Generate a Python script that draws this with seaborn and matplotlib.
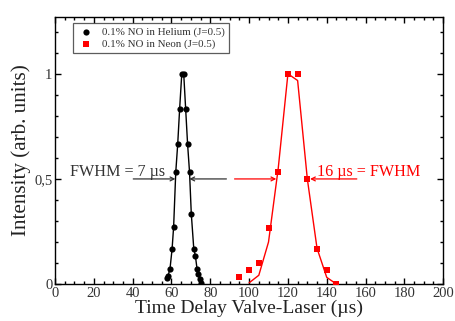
"""Pulse profiles of NO seeded in helium and neon, with FWHM arrows."""

import pandas as pd
import matplotlib
matplotlib.use('Agg')
import matplotlib.pyplot as plt
from matplotlib.ticker import MultipleLocator, FuncFormatter
import seaborn as sns

# helium data (black circles, joined by a line)
helium_t = [57.5, 58.2, 59.2, 60.3, 61.1, 62.2, 63.2, 64.2, 65.3, 66.3,
            67.3, 68.3, 69.3, 70.2, 71.5, 72.3, 73.2, 73.8, 74.6, 75.3]
helium_i = [0.03, 0.04, 0.07, 0.166, 0.272, 0.532, 0.665, 0.833, 1.0, 1.0,
            0.833, 0.665, 0.532, 0.335, 0.166, 0.135, 0.07, 0.046, 0.022, 0.006]

# neon data (red squares) and the smoothed red curve
neon_t = [95, 100, 105, 110, 115, 120, 125, 130, 135, 140, 145]
neon_i = [0.035, 0.067, 0.102, 0.266, 0.533, 1.0, 1.0, 0.50, 0.167, 0.067, 0.0]
neon_fit_t = [100, 105, 110, 115, 120, 125, 130, 135, 140, 145]
neon_fit_i = [0.006, 0.042, 0.20, 0.55, 1.0, 0.968, 0.50, 0.17, 0.032, 0.0]


def main():
    sns.set_theme(style='ticks')
    plt.rcParams['font.family'] = ['Liberation Serif', 'DejaVu Serif']

    he = pd.DataFrame({'t': helium_t, 'i': helium_i})
    ne = pd.DataFrame({'t': neon_t, 'i': neon_i})
    ne_fit = pd.DataFrame({'t': neon_fit_t, 'i': neon_fit_i})

    fig = plt.figure(figsize=(4.55, 3.21), dpi=100)
    ax = fig.add_axes([0.121, 0.115, 0.853, 0.832])

    sns.lineplot(data=he, x='t', y='i', color='black', lw=1.0, ax=ax,
                 legend=False, sort=False)
    sns.lineplot(data=ne_fit, x='t', y='i', color='red', lw=1.0, ax=ax,
                 legend=False, sort=False)
    sns.scatterplot(data=he, x='t', y='i', color='black', marker='o', s=20,
                    edgecolor='black', linewidth=0, ax=ax,
                    label='0.1% NO in Helium (J=0.5)', zorder=3)
    sns.scatterplot(data=ne, x='t', y='i', color='red', marker='s', s=18,
                    edgecolor='red', linewidth=0, ax=ax,
                    label='0.1% NO in Neon (J=0.5)', zorder=3)

    ax.set_xlim(0, 200)
    ax.set_ylim(0, 1.27)
    ax.xaxis.set_major_locator(MultipleLocator(20))
    ax.xaxis.set_minor_locator(MultipleLocator(5))
    ax.yaxis.set_major_locator(MultipleLocator(0.5))
    ax.yaxis.set_minor_locator(MultipleLocator(0.1))
    ax.yaxis.set_major_formatter(FuncFormatter(
        lambda v, p: ('%g' % v).replace('.', ',')))
    ax.tick_params(which='both', direction='in', top=True, right=True,
                   labelsize=10.5, colors='black', width=1.0, pad=2)
    ax.tick_params(which='major', length=4)
    ax.tick_params(which='minor', length=2.5)
    for s in ax.spines.values():
        s.set_linewidth(1.0)
        s.set_color('black')
    for lab in ax.get_xticklabels() + ax.get_yticklabels():
        lab.set_color('#333333')

    ax.set_xlabel('Time Delay Valve-Laser (µs)', fontsize=14,
                  color='#222222', labelpad=0)
    ax.set_ylabel('Intensity (arb. units)', fontsize=15.2,
                  color='#222222', labelpad=2)

    # FWHM arrows
    arrow_k = dict(arrowstyle='->', color='#333333', lw=0.9,
                   shrinkA=0, shrinkB=0, mutation_scale=7)
    arrow_r = dict(arrowstyle='->', color='red', lw=0.9,
                   shrinkA=0, shrinkB=0, mutation_scale=7)
    ax.annotate('', xy=(62, 0.5), xytext=(40.3, 0.5), arrowprops=arrow_k)
    ax.annotate('', xy=(69.2, 0.5), xytext=(88.3, 0.5), arrowprops=arrow_k)
    ax.annotate('', xy=(114, 0.5), xytext=(92.5, 0.5), arrowprops=arrow_r)
    ax.annotate('', xy=(131.4, 0.5), xytext=(155.5, 0.5), arrowprops=arrow_r)
    ax.text(7.8, 0.513, 'FWHM = 7 µs', fontsize=11.6, color='#333333',
            va='baseline', ha='left')
    ax.text(135, 0.513, '16 µs = FWHM', fontsize=11.6, color='red',
            va='baseline', ha='left')

    leg = ax.legend(loc='upper left', bbox_to_anchor=(0.047, 0.978),
                    borderaxespad=0, fontsize=7.9, frameon=True,
                    fancybox=False, edgecolor='#333333', handletextpad=0.6,
                    borderpad=0.35, labelspacing=0.25, handlelength=1.7,
                    markerscale=1.0)
    leg.get_frame().set_linewidth(0.9)
    for t in leg.get_texts():
        t.set_color('#333333')

    fig.savefig('out.png', dpi=100)


if __name__ == '__main__':
    main()
